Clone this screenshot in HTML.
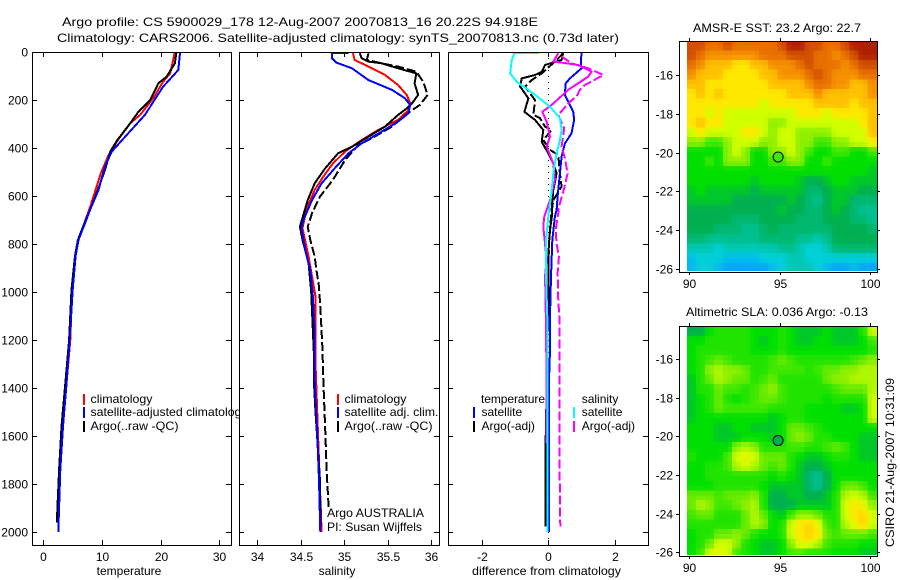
<!DOCTYPE html>
<html>
<head>
<meta charset="utf-8">
<title>Argo profile</title>
<style>
html,body{margin:0;padding:0;background:#fff;}
svg{display:block;font-family:"Liberation Sans",sans-serif;font-size:12px;fill:#000;}
text{stroke:none;}
</style>
</head>
<body>
<svg id="chart" xmlns="http://www.w3.org/2000/svg" width="900" height="580" viewBox="0 0 900 580">
  <rect x="0" y="0" width="900" height="580" fill="#fff"/>
  <g id="p1"></g>
  <g id="p2"></g>
  <g id="p3"></g>
  <g id="m1"></g>
  <g id="m2"></g>

  <text x="62" y="26" textLength="476" lengthAdjust="spacingAndGlyphs">Argo profile: CS 5900029_178 12-Aug-2007 20070813_16 20.22S 94.918E</text>
  <text x="57" y="42" textLength="562" lengthAdjust="spacingAndGlyphs">Climatology: CARS2006. Satellite-adjusted climatology: synTS_20070813.nc (0.73d later)</text>

  <text x="129" y="575" text-anchor="middle">temperature</text>
  <text x="337" y="575" text-anchor="middle">salinity</text>
  <text x="472" y="575" textLength="149" lengthAdjust="spacingAndGlyphs">difference from climatology</text>

  <text x="327" y="517" textLength="97" lengthAdjust="spacingAndGlyphs">Argo AUSTRALIA</text>
  <text x="327" y="531" textLength="95" lengthAdjust="spacingAndGlyphs">PI: Susan Wijffels</text>

  <text x="693" y="32" textLength="168" lengthAdjust="spacingAndGlyphs">AMSR-E SST: 23.2 Argo: 22.7</text>
  <text x="686" y="316" textLength="182" lengthAdjust="spacingAndGlyphs">Altimetric SLA: 0.036 Argo: -0.13</text>
  <text transform="translate(894,547) rotate(-90)" textLength="169" lengthAdjust="spacingAndGlyphs">CSIRO 21-Aug-2007 10:31:09</text>
</svg>
<script>
/* ---------- temperature panel data ---------- */
var tempClimDepth=[0,48,90,124,193,262,297,367,436,506,637,720,783,850,990,1200,1367,1560,1740,2000];
var tempClimValues=[22.4,22,21.6,20.4,18.7,16.5,14.8,12.7,11,9.8,8.1,6.9,6.0,5.5,4.9,4.6,4.0,3.3,2.9,2.55];
var tempSatDepth=[0,75,145,262,346,415,478,575,650,720,783,850,908,990,1200,1367,1560,1740,2000];
var tempSatValues=[23.3,23,20.4,17.3,14.2,11.65,10.5,9.4,8.1,7.0,6.0,5.5,5.3,5.0,4.5,4,3.35,2.9,2.55];
var tempArgoDepth=[0,48,103,130,200,249,297,367,415,492,567,650,720,783,850,990,1200,1367,1560,1740,1960];
var tempArgoValues=[22.7,22.4,21,19.6,18.2,16.2,14.8,12.6,11.4,10.5,9.4,8.1,6.9,5.9,5.4,4.8,4.4,3.8,3.1,2.7,2.3];

/* ---------- salinity panel data ---------- */
var salClimDepth=[5,33,61,96,138,179,214,242,283,325,367,415,464,519,575,650,734,853,1019,1300,1603,2000];
var salClimValues=[35.10,35.12,35.28,35.47,35.62,35.72,35.76,35.74,35.62,35.39,35.2,35.01,34.87,34.76,34.66,34.57,34.52,34.59,34.67,34.67,34.7,34.74];
var salSatDepth=[5,5,26,44,68,117,158,193,221,255,290,332,381,422,485,547,617,700,734,783,853,908,1019,1172,1367,1603,1783,2000];
var salSatValues=[35.05,34.86,34.86,34.91,35.09,35.28,35.55,35.70,35.76,35.74,35.62,35.43,35.2,35.05,34.89,34.74,34.63,34.53,34.51,34.53,34.57,34.61,34.64,34.66,34.66,34.69,34.71,34.725];
var salArgoDepth=[5,26,40,47,68,89,131,179,214,235,262,311,353,394,422,485,547,617,728,783,880,1000,1250,1367,1500,1780,1980];
var salArgoValues=[35.18,35.2,35.28,35.43,35.62,35.83,35.81,35.85,35.78,35.72,35.62,35.47,35.28,35.09,34.93,34.78,34.66,34.58,34.49,34.52,34.59,34.62,34.65,34.65,34.67,34.72,34.73];
var salQcDepth=[5,33,47,61,82,124,179,221,242,276,311,353,388,450,533,603,672,728,783,853,908,978,1089,1242,1367,1561,1756,1895];
var salQcValues=[35.28,35.26,35.43,35.62,35.83,35.91,35.96,35.87,35.78,35.66,35.55,35.35,35.16,35.01,34.87,34.72,34.63,34.58,34.61,34.66,34.68,34.71,34.73,34.75,34.76,34.78,34.80,34.82];

/* ---------- difference panel data ---------- */
var diffTempSatDepth=[5,47,68,110,131,179,221,249,283,339,381,436,506,603,658,686,784,936,1103,1242,1367,1999];
var diffTempSatValues=[1.0,.98,1.0,.65,.52,.50,.65,.75,.78,.70,.50,.40,.35,.28,.25,.20,.12,.08,.05,.05,.02,.02];
var diffTempArgoDepth=[5,33,54,82,96,110,144,193,249,283,325,374,422,464,506,575,658,672,742,798,853,923,1048,1631,1978];
var diffTempArgoValues=[.45,.40,-.10,-.20,-.40,-.80,-.85,-.60,-.72,-.40,-.15,-.20,0,.15,.25,.15,.10,.12,.05,.02,0,0,0,-.08,-.08];
var diffTempQcDepth=[5,40,89,117,144,200,262,276,311,325,367,408,429,506,561,617,686,798,923];
var diffTempQcValues=[.45,.20,-.20,-.50,-.70,-.40,-.45,-.25,-.10,.10,-.15,.05,.30,.35,.40,.15,.08,.02,0];
var diffSalSatDepth=[5,5,33,89,124,158,200,235,276,325,367,422,506,603,658,686,784,936,1103,1242,1367,1999];
var diffSalSatValues=[-.28,-1.02,-1.10,-1.15,-.95,-.60,-.20,.10,.35,.40,.35,.25,.15,.08,.02,0,-.07,-.07,-.03,-.03,-.03,-.02];
var diffSalArgoDepth=[5,40,44,54,82,103,158,221,249,290,353,394,464,533,617,658,686,728,798,867,936,1034,1367,1631];
var diffSalArgoValues=[.30,.15,.40,.90,1.30,1.20,.60,.10,-.18,-.05,.05,-.05,.15,.20,.05,-.05,-.12,-.15,-.10,-.05,-.10,-.08,-.05,-.05];
var diffSalQcDepth=[19,47,68,96,138,158,186,207,262,318,394,443,506,568,631,658,672,742,798,853,923,1034,1103,1228,1367,1645,1978];
var diffSalQcValues=[.40,.70,1.20,1.66,1.10,.95,.85,.65,.30,.48,.40,.50,.58,.48,.35,.30,.30,.22,.25,.32,.28,.30,.33,.34,.33,.33,.36];

/* ---------- tick labels ---------- */
var depthTicks=[0,200,400,600,800,1000,1200,1400,1600,1800,2000];
var tempTicks=[0,10,20,30];
var salTicks=[34,34.5,35,35.5,36];
var diffTicks=[-2,0,2];
var lonTicks=[90,95,100];
var latTicks=[-16,-18,-20,-22,-24,-26];

/* ---------- map cell values (colour level, 0.5 degree cells, north to south) ---------- */
var sstCells=[
[12,12,11,11,12,11,11,11,11,11,12,13,13,12,12,11,11,12,13,13,13],
[12,11,10,10,10,10,10,10,11,11,11,12,12,12,11,11,10,11,12,13,13],
[11,10,9,9,9,8,8,9,9,10,10,10,11,12,11,11,11,10,11,12,12],
[10,9,9,9,8,8,8,8,9,9,10,10,10,11,12,11,10,10,10,11,11],
[9,9,8,8,8,8,8,8,8,9,9,9,9,10,11,11,10,10,9,9,10],
[8,9,8,9,8,8,8,8,8,8,8,9,9,9,10,9,9,9,9,9,10],
[8,8,8,8,8,8,8,8,7,8,8,8,8,8,9,9,9,9,8,9,9],
[8,8,7,8,7,7,7,7,7,7,7,7,8,8,8,7,8,8,8,8,9],
[8,9,8,8,7,7,7,7,7,6,6,7,7,7,7,7,7,7,7,8,9],
[7,8,7,7,7,7,8,8,7,6,7,7,6,6,6,6,7,7,7,7,9],
[6,6,5,5,6,7,7,7,6,6,7,7,6,6,5,5,6,6,7,7,8],
[4,4,4,4,6,7,6,4,4,6,6,7,6,5,4,4,5,5,4,4,5],
[4,4,5,4,6,6,6,4,4,5,5,6,6,4,4,5,4,4,4,4,4],
[4,4,4,4,4,4,4,4,4,4,4,4,4,4,4,4,4,4,4,4,3.5],
[4,4,4,4,4,4,4,3.5,4,4,4,4,3.5,3,3,3.5,4,4,3.5,3.5,3.5],
[3.5,4,3.5,3.5,3.5,3.5,3.5,3,3.5,3.5,3.5,3.5,3.5,2.5,2.5,3,3.5,3.5,3.5,3,3],
[3.5,3.5,3.5,3.5,3.5,3,3,3,3,3,3,3.5,3,2.5,2,3,3.5,3.5,2.5,2.5,2.5],
[3,3,3,3,3,3,3,3,3,3,3.5,3,3,2.5,2.5,3,3.5,3,2.5,2,2],
[3,3,3,3,3,2.5,2.5,2.5,3,3,3,3,2.5,2.5,2.5,3,3,3,2.5,2.5,2],
[3,3,3,2.5,2.5,2.5,2,2,2.5,3,2.5,2.5,2.5,2.5,2.5,2.5,3,3,3,3,2.5],
[2.5,2.5,2,2,2,2,2,2,2.5,2.5,2.5,2.5,2,2,1.5,2,3,3,3,3,3],
[1.5,1.5,1.5,1,1.5,1.5,1.5,1.5,1.5,1.5,2,2,1.5,1,1,1.5,2.5,2.5,2.5,2.5,2.5],
[.5,1,1,1,.5,.5,.5,.5,1,1,1,1.5,1.5,1,1,1,1,1,1,1,1],
[.5,1,1,.5,0,0,0,0,0,.5,1,1.5,1.5,1.5,1,.5,0,0,.5,0,0]
];
var slaCells=[
[3,3,4,4.5,4.5,4.5,4.5,4,4,4,4.5,4,3.5,3.5,3.5,4,3.5,3.5,3.5,4.5,7],
[4,4,4.5,4.5,4.5,4.5,4.5,4,3.5,4,4.5,4,3.5,3.5,4,4,3.5,3.5,3.5,4,5],
[4,4.5,4.5,4.5,4.5,4.5,4.5,4,4,4,4.5,4,4,4,4,4,4,4,4,4,4.5],
[4,4.5,5,5.5,5,4.5,4.5,4.5,4.5,5,5.5,5,4.5,4.5,4.5,4.5,4.5,4.5,5,5.5,6],
[4,4.5,6,6.5,6,6,5.5,4.5,4.5,5,5,5,5,4.5,5,5.5,5.5,6,6,6.5,6.5],
[3.5,4.5,5.5,6.5,6,5.5,5.5,4.5,5,5.5,4.5,4.5,4.5,4.5,4.5,5.5,6,6,6.5,6.5,6.5],
[3.5,4.5,4.5,5.5,5,5,4.5,5,5.5,6,5,4.5,4.5,4.5,4.5,4.5,5,5.5,5.5,5.5,6.5],
[3.5,4,4.5,5.5,4.5,4,4.5,5,5.5,5.5,5,4.5,4.5,4.5,4.5,4,4.5,4.5,4.5,4.5,7],
[3.5,4,4.5,5.5,5,5,5,5,5,4.5,4.5,4.5,4.5,4,4,4,4,3.5,3.5,4,7],
[3.5,4,4,4,4,4,4,4,4,3.5,4,4.5,4.5,4,4,4,4,4,4,4,7],
[4,4,4,3.5,3.5,4,4,3.5,3.5,3.5,4,5.5,5.5,5,4.5,4,4,4,4,4,4],
[4,4,4,3.5,3.5,3.5,4,4,4,3.5,4,5.5,6,5.5,4.5,4.5,4,4,4,3.5,3.5],
[4,4,4,4,4,6,6.5,6,4.5,4.5,4.5,5,5,4.5,4.5,5,5.5,5,4,3.5,3.5],
[4.5,4,4,4,5,7,7.5,7,5.5,5.5,5.5,4.5,4,3.5,3.5,4,4.5,4.5,4,3.5,3.5],
[4,4,4.5,4.5,5,6.5,7,6.5,5.5,5,5.5,4.5,3.5,3,3,3.5,4,4,4,4,4],
[4,4,4.5,4.5,4.5,4.5,4.5,4.5,4.5,4,4.5,4,3.5,2.5,2,3,4,4,4,4,4],
[4,4,4,4.5,4.5,4.5,4.5,4.5,4,3.5,3.5,3.5,3.5,2.5,2,3,4,5.5,5.5,5,4],
[5.5,5.5,5.5,5,5.5,5.5,5.5,6,4.5,3,3,3.5,3.5,3,3,3.5,4.5,6.5,7,6.5,5],
[5.5,6.5,6,5,5,5.5,6,6.5,4.5,3,3,3,3.5,3.5,3.5,3.5,4.5,7,8,7.5,6],
[5,5.5,5.5,4.5,4.5,4.5,5.5,6.5,5.5,4,3.5,5,6,6,5.5,4.5,4.5,7,8,8.5,7],
[4.5,4.5,4.5,4.5,4.5,4.5,5.5,6.5,6,4,4.5,7,8,8.5,7.5,5,4.5,6.5,7.5,8.5,7],
[4,4.5,4.5,5.5,5.5,6,5.5,4.5,4,4,4.5,7,8,8.5,8,5.5,5,5.5,5.5,5.5,5],
[4,4.5,5.5,7,7,6,4.5,4,3.5,3.5,4,6,7.5,7.5,6.5,5,4.5,4.5,4.5,4,4],
[4,5,7,7.5,7,5,4.5,4,3.5,3.5,4,5,5,4.5,4.5,4.5,4,4,4,3.5,3.5]
];
var sstArgoLevel=[5];
var slaArgoLevel=[3];
var argoLon=[94.918];
var argoLat=[-20.22];
var paletteHex=["#00a8ff","#00d0d8","#00c090","#00b050","#00e000","#40e800","#90f000","#d0ff00","#ffe800","#ffc000","#f59000","#e87000","#d05000","#b02000"];

/* ---------- helpers ---------- */
var NS="http://www.w3.org/2000/svg";
function mk(parent,tag,attrs,txt){
  var e=document.createElementNS(NS,tag);
  for(var k in attrs){e.setAttribute(k,attrs[k]);}
  if(txt!==undefined){e.textContent=txt;}
  parent.appendChild(e);
  return e;
}
function yDepth(d){return 52+0.24*d;}
function seg(g,name,x1,y1,x2,y2){
  var l=mk(g,'line',{x1:x1,y1:y1,x2:x2,y2:y2,stroke:'#000','stroke-width':1,'shape-rendering':'crispEdges'});
  
  
  return l;
}
function label(g,name,x,y,anchor,t){
  var e=mk(g,'text',{x:x,y:y,'text-anchor':anchor},t);
  
  
  return e;
}
function panelFrame(g,name,x0,x1,ticks,xf,showDepthLabels){
  var y0=52,y1=545;
  var bg=mk(g,'rect',{x:x0,y:y0,width:x1-x0,height:y1-y0,fill:'#fff',stroke:'none'});
  
  
  return function(){
    var fr=mk(g,'rect',{x:x0+.5,y:y0+.5,width:x1-x0,height:y1-y0,fill:'none',stroke:'#000','stroke-width':1,'shape-rendering':'crispEdges'});
    
    
    ticks.forEach(function(t){
      var x=Math.round(xf(t))+.5;
      seg(g,name+'-x-tick',x,y1,x,y1-5);
      seg(g,name+'-x-tick-top',x,y0,x,y0+5);
      label(g,name+'-x-tick-label',x,561,'middle',String(t));
    });
    depthTicks.forEach(function(d){
      var y=Math.round(yDepth(d))+.5;
      seg(g,name+'-y-tick',x0,y,x0+5,y);
      seg(g,name+'-y-tick-right',x1,y,x1-5,y);
      if(showDepthLabels){label(g,'depth-tick-label',28,y+4,'end',String(d));}
    });
  };
}
function series(g,name,depths,vals,xf,color,dash){
  var pts=depths.map(function(d,i){return xf(vals[i]).toFixed(1)+','+yDepth(d).toFixed(1);}).join(' ');
  var a={points:pts,fill:'none',stroke:color,'stroke-width':2,'shape-rendering':'crispEdges','stroke-linejoin':'round'};
  if(dash){a['stroke-dasharray']=dash;}
  var p=mk(g,'polyline',a);
  
  
}
function legendEntry(g,name,sx,y,color,tx,t,len){
  var s=mk(g,'rect',{x:sx,y:y-9,width:2,height:11,fill:color,'shape-rendering':'crispEdges'});
  
  
  var e=mk(g,'text',{x:tx,y:y},t);
  
  
  if(len){e.setAttribute('textLength',len);e.setAttribute('lengthAdjust','spacingAndGlyphs');}
}

/* ---------- temperature panel ---------- */
function xTemp(t){return 43.3+5.87*t;}
var g1=document.getElementById('p1');
var fin1=panelFrame(g1,'temperature',32,231,tempTicks,xTemp,true);
series(g1,'temperature-climatology-line',tempClimDepth,tempClimValues,xTemp,'#ff0000');
series(g1,'temperature-argo-line',tempArgoDepth,tempArgoValues,xTemp,'#000000');
series(g1,'temperature-satellite-line',tempSatDepth,tempSatValues,xTemp,'#0000ff');
fin1();
legendEntry(g1,'legend-climatology',83,403,'#ff0000',90.5,'climatology',62);
legendEntry(g1,'legend-satellite-adjusted',83,416,'#0000ff',90.5,'satellite-adjusted climatology',157);
legendEntry(g1,'legend-argo',83,430,'#000000',90.5,'Argo(..raw -QC)',88);

/* ---------- salinity panel ---------- */
function xSal(s){return 257.3+86.9*(s-34);}
var g2=document.getElementById('p2');
var fin2=panelFrame(g2,'salinity',239,439,salTicks,xSal,false);
series(g2,'salinity-climatology-line',salClimDepth,salClimValues,xSal,'#ff0000');
series(g2,'salinity-argo-raw-line',salArgoDepth,salArgoValues,xSal,'#000000');
series(g2,'salinity-argo-qc-line',salQcDepth,salQcValues,xSal,'#000000','9 3');
series(g2,'salinity-satellite-line',salSatDepth,salSatValues,xSal,'#0000ff');
fin2();
legendEntry(g2,'legend-climatology-sal',337,403,'#ff0000',344.5,'climatology',62);
legendEntry(g2,'legend-satellite-adj',337,416,'#0000ff',344.5,'satellite adj. clim.',94);
legendEntry(g2,'legend-argo-sal',337,430,'#000000',344.5,'Argo(..raw -QC)',88);

/* ---------- difference panel ---------- */
function xDiff(v){return 548.3+33.2*v;}
var g3=document.getElementById('p3');
var fin3=panelFrame(g3,'difference',448,648,diffTicks,xDiff,false);
var zero=mk(g3,'line',{x1:xDiff(0),y1:52,x2:xDiff(0),y2:545,stroke:'#000','stroke-width':1,'stroke-dasharray':'1 5','shape-rendering':'crispEdges'});


series(g3,'diff-temperature-argo-line',diffTempArgoDepth,diffTempArgoValues,xDiff,'#000000');
series(g3,'diff-temperature-argo-qc-line',diffTempQcDepth,diffTempQcValues,xDiff,'#000000','9 3');
series(g3,'diff-temperature-satellite-line',diffTempSatDepth,diffTempSatValues,xDiff,'#0000ff');
series(g3,'diff-salinity-argo-line',diffSalArgoDepth,diffSalArgoValues,xDiff,'#ff00ff');
series(g3,'diff-salinity-argo-qc-line',diffSalQcDepth,diffSalQcValues,xDiff,'#ff00ff','9 3');
series(g3,'diff-salinity-satellite-line',diffSalSatDepth,diffSalSatValues,xDiff,'#00ffff');
fin3();
var hdr1=label(g3,'legend-temperature-heading',481,403,'start','temperature');
hdr1.setAttribute('textLength','64');
var hdr2=label(g3,'legend-salinity-heading',581.7,403,'start','salinity');
legendEntry(g3,'legend-temp-satellite',473,416,'#0000ff',481.5,'satellite');
legendEntry(g3,'legend-temp-argo',473,430,'#000000',481.5,'Argo(-adj)');
legendEntry(g3,'legend-sal-satellite',573,416,'#00ffff',581.7,'satellite');
legendEntry(g3,'legend-sal-argo',573,430,'#ff00ff',581.7,'Argo(-adj)');

/* ---------- maps ---------- */
function hexRgb(h){return [parseInt(h.substr(1,2),16),parseInt(h.substr(3,2),16),parseInt(h.substr(5,2),16)];}
function levelColor(l){
  var n=paletteHex.length-1;
  var c=Math.max(0,Math.min(n,l));
  var i=Math.min(n-1,Math.floor(c));
  var f=c-i;
  var a=hexRgb(paletteHex[i]),b=hexRgb(paletteHex[i+1]);
  return 'rgb('+Math.round(a[0]+(b[0]-a[0])*f)+','+Math.round(a[1]+(b[1]-a[1])*f)+','+Math.round(a[2]+(b[2]-a[2])*f)+')';
}
function ease(f){return f*f*(3-2*f);}
function sampleCells(cells,u,v){
  var rows=cells.length,cols=cells[0].length;
  var cu=Math.max(0,Math.min(cols-1,u)),cv=Math.max(0,Math.min(rows-1,v));
  var c0=Math.floor(cu),r0=Math.floor(cv);
  var c1=Math.min(cols-1,c0+1),r1=Math.min(rows-1,r0+1);
  var fu=ease(cu-c0),fv=ease(cv-r0);
  var top=cells[r0][c0]*(1-fu)+cells[r0][c1]*fu;
  var bot=cells[r1][c0]*(1-fu)+cells[r1][c1]*fu;
  return top*(1-fv)+bot*fv;
}
function xLon(lon){return 689.3+18.06*(lon-90);}
function drawMap(id,name,cells,frameTop,frameBottom,lat20Y,latTop,argoLevel){
  var g=document.getElementById(id);
  function yLat(lat){return lat20Y+19.33*(-20-lat);}
  var clipId=name+'-clip';
  var defs=mk(g,'defs',{});
  var cp=mk(defs,'clipPath',{id:clipId});
  mk(cp,'rect',{x:679,y:frameTop,width:198.5,height:frameBottom-frameTop-1});
  var cg=mk(g,'g',{'clip-path':'url(#'+clipId+')'});
  
  
  var sub=2;
  var nRows=cells.length*sub,nCols=cells[0].length*sub;
  for(var r=0;r<nRows;r++){
    for(var c=0;c<nCols;c++){
      var v=sampleCells(cells,(c+.5)/sub-.5,(r+.5)/sub-.5);
      var lon0=89.87+0.5/sub*c, lat0=latTop-0.5/sub*r;
      var x=xLon(lon0),y=yLat(lat0);
      var rc=mk(cg,'rect',{x:x.toFixed(2),y:y.toFixed(2),width:(xLon(lon0+.5/sub)-x+.4).toFixed(2),height:(yLat(lat0-.5/sub)-y+.4).toFixed(2),fill:levelColor(v),'shape-rendering':'crispEdges'});
      
      
    }
  }
  var fr=mk(g,'rect',{x:679.5,y:frameTop+.5,width:198,height:frameBottom-frameTop,fill:'none',stroke:'#000','stroke-width':1,'shape-rendering':'crispEdges'});
  
  
  lonTicks.forEach(function(t){
    var x=Math.round(xLon(t))+.5;
    seg(g,name+'-lon-tick',x,frameBottom,x,frameBottom+3);
    seg(g,name+'-lon-tick-top',x,frameTop,x,frameTop-3);
    label(g,name+'-lon-label',x,frameBottom+16,'middle',String(t));
  });
  latTicks.forEach(function(t){
    var y=Math.round(yLat(t))+.5;
    seg(g,name+'-lat-tick',679,y,676,y);
    seg(g,name+'-lat-tick-right',877,y,880,y);
    label(g,name+'-lat-label',673,y+4,'end',String(t));
  });
  var mkr=mk(g,'circle',{cx:xLon(argoLon[0]),cy:yLat(argoLat[0]),r:5,fill:levelColor(argoLevel[0]),stroke:'#000','stroke-width':1});
  
  
}
drawMap('m1','sst-map',sstCells,41,272,152.7,-14.2,sstArgoLevel);
drawMap('m2','sla-map',slaCells,326,556,436.3,-14.3,slaArgoLevel);
</script>
</body>
</html>
